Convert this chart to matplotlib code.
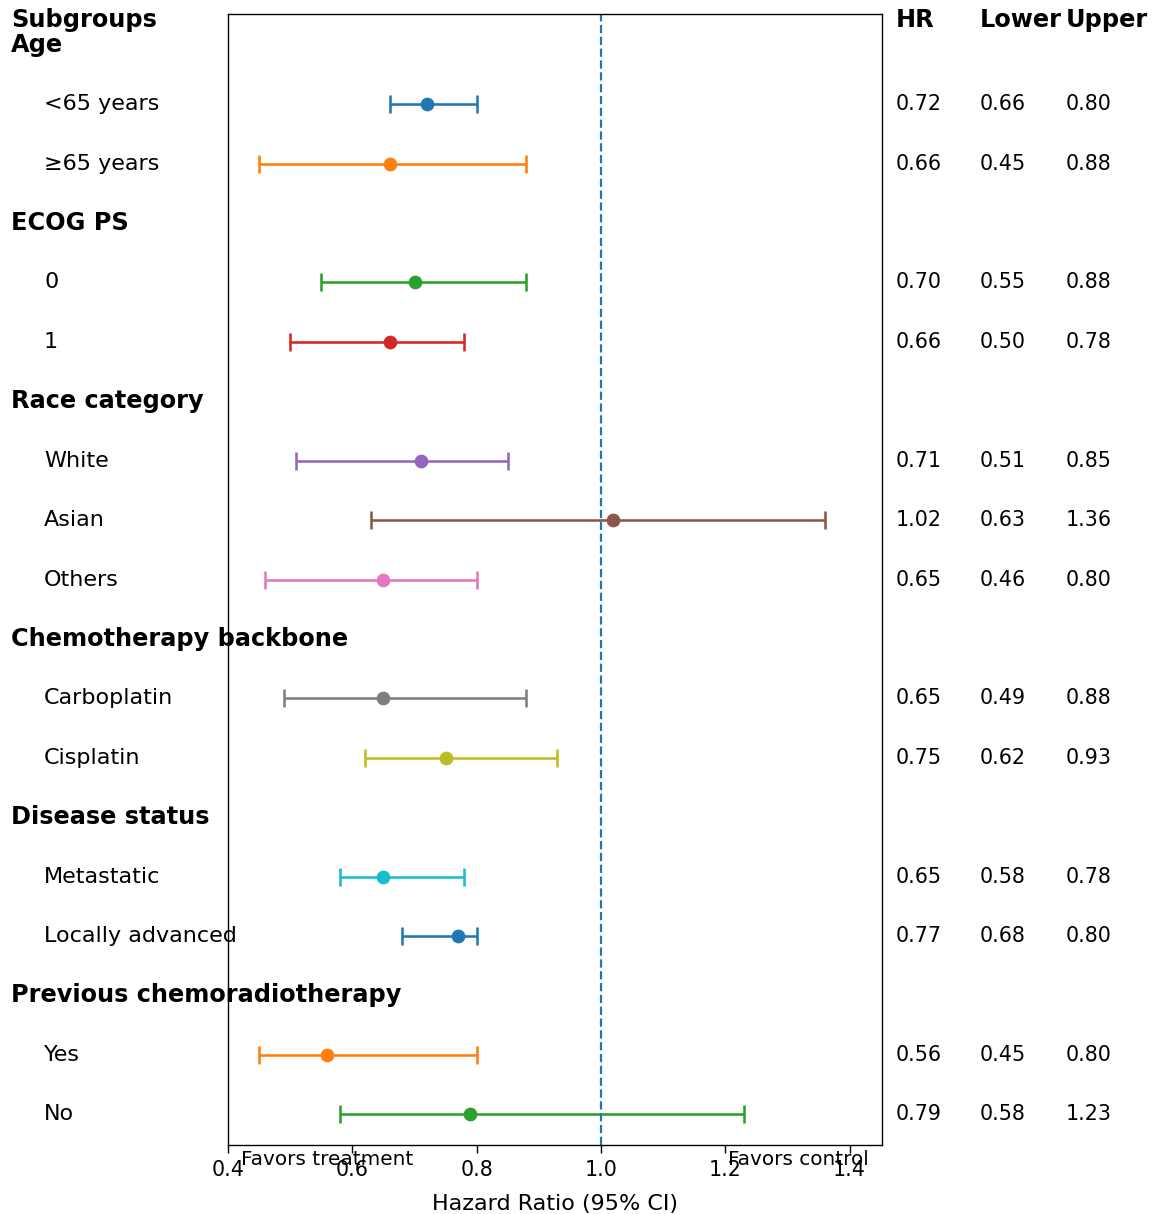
import matplotlib
matplotlib.use("Agg")
import matplotlib.pyplot as plt
import matplotlib.transforms as mtransforms

# Subgroup definitions
groups = ["Age", "ECOG PS", "Race category", "Chemotherapy backbone",
          "Disease status", "Previous chemoradiotherapy"]
group_sizes = [2, 2, 3, 2, 2, 2]
labels = ["<65 years", "\u226565 years", "0", "1", "White", "Asian", "Others",
          "Carboplatin", "Cisplatin", "Metastatic", "Locally advanced", "Yes", "No"]
hr = [0.72, 0.66, 0.70, 0.66, 0.71, 1.02, 0.65, 0.65, 0.75, 0.65, 0.77, 0.56, 0.79]
lower = [0.66, 0.45, 0.55, 0.50, 0.51, 0.63, 0.46, 0.49, 0.62, 0.58, 0.68, 0.45, 0.58]
upper = [0.80, 0.88, 0.88, 0.78, 0.85, 1.36, 0.80, 0.88, 0.93, 0.78, 0.80, 0.80, 1.23]
xticks = [0.4, 0.6, 0.8, 1.0, 1.2, 1.4]
col_headers = ["HR", "Lower", "Upper"]

DPI = 123.6
fig = plt.figure(figsize=(1153 / DPI, 1214 / DPI), dpi=DPI)
ax = fig.add_axes([228 / 1153, 1 - 1145 / 1214, (882 - 228) / 1153, (1145 - 14) / 1214])

colors = plt.rcParams["axes.prop_cycle"].by_key()["color"]

# Lay out rows: one header row per group followed by its subgroup rows
header_rows = []
item_rows = []
row = 0
for g, n in zip(groups, group_sizes):
    header_rows.append((row, g))
    row += 1
    for _ in range(n):
        item_rows.append(row)
        row += 1
n_rows = row

for i, y in enumerate(item_rows):
    c = colors[i % len(colors)]
    ax.errorbar(hr[i], y, xerr=[[hr[i] - lower[i]], [upper[i] - hr[i]]],
                fmt="o", color=c, ecolor=c, markersize=7, elinewidth=1.5,
                capsize=5, capthick=1.5)

ax.axvline(1.0, color="tab:blue", linestyle="--", linewidth=1.3)

ax.set_ylim(n_rows - 0.48, -0.52)
ax.set_xlim(0.4, 1.452)
ax.set_xticks(xticks)
ax.set_xticklabels([f"{t:.1f}" for t in xticks], fontsize=12)
ax.tick_params(axis="x", length=4.5, pad=4.5)
ax.set_yticks([])
ax.set_xlabel("Hazard Ratio (95% CI)", fontsize=13, labelpad=8)

ax.text(0.02, -0.004, "Favors treatment", transform=ax.transAxes,
        ha="left", va="top", fontsize=11.7)
ax.text(0.98, -0.004, "Favors control", transform=ax.transAxes,
        ha="right", va="top", fontsize=11.7)

# Row labels on the left and value columns on the right
trans = mtransforms.blended_transform_factory(fig.transFigure, ax.transData)
x_head, x_item = 11 / 1153, 44 / 1153
col_x = [896 / 1153, 980 / 1153, 1066 / 1153]

fig.text(x_head, 1 - 20 / 1214, "Subgroups", ha="left", va="center",
         fontsize=14, fontweight="bold")
for cx, h in zip(col_x, col_headers):
    fig.text(cx, 1 - 20 / 1214, h, ha="left", va="center",
             fontsize=14, fontweight="bold")

for y, g in header_rows:
    ax.text(x_head, y, g, transform=trans, ha="left", va="center",
            fontsize=14, fontweight="bold", clip_on=False)

for i, y in enumerate(item_rows):
    ax.text(x_item, y, labels[i], transform=trans, ha="left", va="center",
            fontsize=13, clip_on=False)
    for cx, v in zip(col_x, (hr[i], lower[i], upper[i])):
        ax.text(cx, y, f"{v:.2f}", transform=trans, ha="left", va="center",
                fontsize=12, clip_on=False)

fig.savefig("out.png", dpi=DPI)
